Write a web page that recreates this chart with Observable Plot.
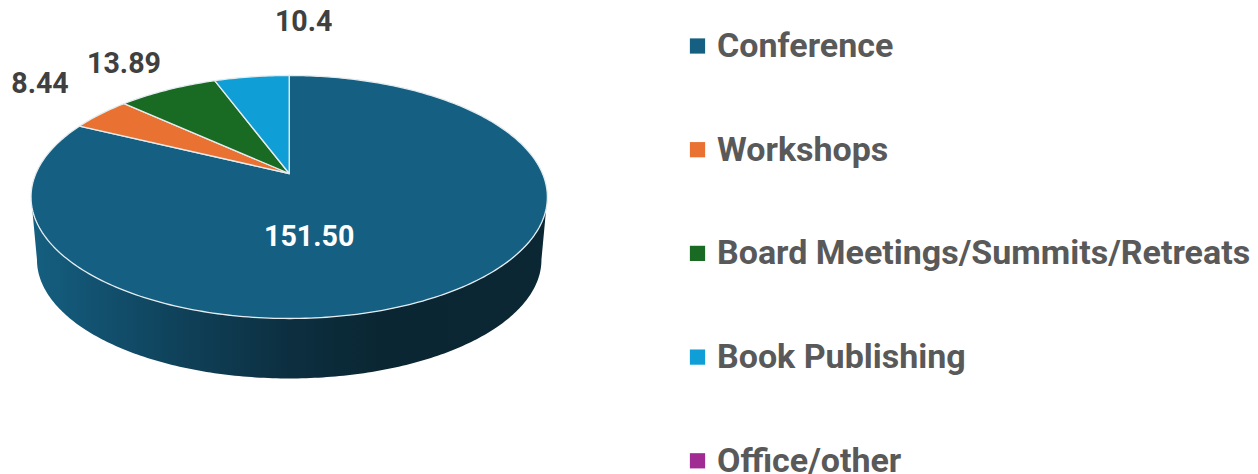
<!DOCTYPE html>
<html>
<head>
<meta charset="utf-8">
<style>html,body{margin:0;padding:0;background:#fff;overflow:hidden}</style>
<script src="https://cdn.jsdelivr.net/npm/d3@7"></script>
<script src="https://cdn.jsdelivr.net/npm/@observablehq/plot@0.6"></script>
</head>
<body>
<div id="chart"></div>
<script>
const categories = ["Conference", "Workshops", "Board Meetings/Summits/Retreats", "Book Publishing", "Office/other"];
const values = [151.5, 8.44, 13.89, 10.4, 0];
const valueLabels = ["151.50", "8.44", "13.89", "10.4", ""];
const colors = ["#156082", "#E97132", "#196B24", "#0F9ED5", "#A02B93"];

const W = 1258, H = 474;
const FONT = "Roboto, 'Open Sans', sans-serif";

// perspective view of the pie disc
const view = {cx: 288.7, cy: 173, rx: 253.3, ry: 116.95, k: 0.1934, depth: 63.3, shrink: 0.977};
function project(theta, r = 1, level = 0) {
  const u = r * Math.sin(theta), v = r * Math.cos(theta);
  const d = 1 + view.k * v;
  const s = level ? view.shrink : 1;
  return {
    x: view.cx + view.rx * s * u / d,
    y: view.cy + (level ? view.depth : 0) - view.ry * s * v / d
  };
}

const arcs = d3.pie().sort(null).value(d => d)(values);

// top face slices
const slices = [];
arcs.forEach((a, i) => {
  if (a.endAngle - a.startAngle <= 0) return;
  const n = Math.ceil((a.endAngle - a.startAngle) * 60);
  slices.push({name: categories[i], ...project(0, 0)});
  for (let j = 0; j <= n; ++j) {
    const t = a.startAngle + (a.endAngle - a.startAngle) * j / n;
    slices.push({name: categories[i], ...project(t)});
  }
  slices.push({name: categories[i], ...project(0, 0)});
});

// side wall silhouette
const wall = [];
const leftTop = Math.PI + Math.acos(0.283), rightTop = Math.PI - Math.acos(0.283);
const kAngle = Math.acos(view.k);
const lowStart = Math.PI + kAngle, lowEnd = Math.PI - kAngle;
wall.push(project(rightTop));
const m = 200;
for (let j = 0; j <= m; ++j) wall.push(project(lowEnd + (lowStart - lowEnd) * j / m, 1, 1));
for (let j = 0; j <= m; ++j) wall.push(project(leftTop + (rightTop - leftTop) * j / m));

// legend rows
const legendX = 697, legendTextX = 716.5, legendTop = 45.5, legendStep = 103.7;
const legend = categories.map((name, i) => ({name, x: legendX, tx: legendTextX, y: legendTop + i * legendStep}));

// value labels: anchored on the slice, nudged to where the reference puts them
const labelNudge = [[20, 63, true], [-60.5, -30], [-43.5, -26], [52, -55]];
const labelMarks = arcs.slice(0, 4).map((a, i) => {
  const [dx, dy, centre] = labelNudge[i];
  const mid = (a.startAngle + a.endAngle) / 2;
  const p = centre ? project(0, 0) : project(mid);
  return Plot.text([{...p, label: valueLabels[i]}], {
    x: "x", y: "y", text: "label", dx, dy,
    fill: centre ? "#ffffff" : "#404040",
    fontFamily: FONT, fontWeight: 700, fontSize: 28.6, textAnchor: "middle", lineAnchor: "middle"
  });
});

const gradient = () => {
  const defs = d3.create("svg:defs");
  const g = defs.append("linearGradient").attr("id", "wallShade").attr("x1", 0).attr("x2", 1).attr("y1", 0).attr("y2", 0);
  [[0, "#155f80"], [0.12, "#125270"], [0.3, "#0f4058"], [0.5, "#0c2f40"], [0.68, "#0a2632"], [1, "#0a2733"]]
    .forEach(([o, c]) => g.append("stop").attr("offset", o).attr("stop-color", c));
  return defs.node();
};

const chart = Plot.plot({
  width: W, height: H,
  margin: 0,
  x: {type: "linear", domain: [0, W], range: [0, W], axis: null},
  y: {type: "linear", domain: [0, H], range: [0, H], axis: null},
  color: {domain: categories, range: colors},
  style: {background: "#fff"},
  marks: [
    gradient,
    Plot.line(wall, {x: "x", y: "y", fill: "url(#wallShade)", stroke: "none", curve: "linear"}),
    Plot.line(slices, {x: "x", y: "y", z: "name", fill: "name", stroke: "#e4ecef", strokeWidth: 1.3, curve: "linear"}),
    ...labelMarks,
    Plot.dot(legend, {x: "x", y: "y", fill: "name", symbol: "square", r: 8.6, stroke: "none"}),
    Plot.text(legend, {
      x: "tx", y: "y", text: "name", textAnchor: "start", lineAnchor: "middle",
      fill: "#595959", fontFamily: FONT, fontWeight: 700, fontSize: 34
    })
  ]
});
document.getElementById("chart").appendChild(chart);
</script>
</body>
</html>
